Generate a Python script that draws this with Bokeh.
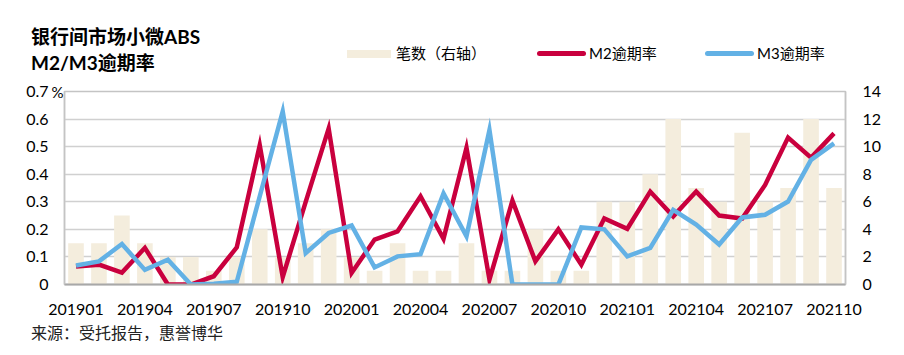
from bokeh.plotting import figure
from bokeh.layouts import column
from bokeh.models import (Range1d, LinearAxis, FixedTicker, NumeralTickFormatter,
                          ColumnDataSource, Div)
from bokeh.embed import file_html
from bokeh.resources import INLINE

months = ["201901", "201902", "201903", "201904", "201905", "201906", "201907", "201908",
          "201909", "201910", "201911", "201912", "202001", "202002", "202003", "202004",
          "202005", "202006", "202007", "202008", "202009", "202010", "202011", "202012",
          "202101", "202102", "202103", "202104", "202105", "202106", "202107", "202108",
          "202109", "202110"]
counts = [3, 3, 5, 3, 2, 2, 1, 2, 4, 2, 3, 4, 2, 1, 3, 1, 1, 3, 1, 1, 4, 1, 1, 6,
          6, 8, 12, 7, 6, 11, 6, 7, 12, 7]
m2 = [0.065, 0.072, 0.043, 0.133, 0.0, 0.0, 0.030, 0.135, 0.505, 0.027, 0.30, 0.566,
      0.042, 0.163, 0.193, 0.320, 0.166, 0.496, 0.018, 0.304, 0.084, 0.200, 0.072, 0.240,
      0.202, 0.337, 0.247, 0.337, 0.250, 0.239, 0.361, 0.533, 0.460, 0.548]
m3 = [0.069, 0.084, 0.147, 0.053, 0.090, 0.0, 0.003, 0.010, 0.32, 0.628, 0.114, 0.187,
      0.214, 0.062, 0.102, 0.110, 0.330, 0.175, 0.560, 0.0, 0.0, 0.0, 0.207, 0.200,
      0.102, 0.133, 0.271, 0.217, 0.145, 0.243, 0.253, 0.301, 0.452, 0.512]
shown_labels = ["201901", "201904", "201907", "201910", "202001", "202004", "202007",
                "202010", "202101", "202104", "202107", "202110"]
left_ticks = [0, 0.1, 0.2, 0.3, 0.4, 0.5, 0.6, 0.7]
right_ticks = [0, 2, 4, 6, 8, 10, 12, 14]
unit_label = "%"

title_lines = ["银行间市场小微ABS", "M2/M3逾期率"]
legend_names = ["笔数（右轴）", "M2逾期率", "M3逾期率"]
source_text = "来源：受托报告，惠誉博华"

RED = "#C9003E"
BLUE = "#63B1E5"
BEIGE = "#F4EDDD"
GRID = "#D0D0D0"
BORDER = "#C4C4C4"
FONT = "Lato, 'Noto Sans CJK SC'"
CSS_FONT = "Lato, 'Noto Sans CJK SC', sans-serif"
W = 896
HDR_H = 79
FTR_H = 23

idx = list(range(len(months)))
tick_idx = [months.index(m) for m in shown_labels]

# ---------------- header: title + legend (HTML) ----------------
def absdiv(left, top, inner, extra=""):
    return (f'<div style="position:absolute;left:{left}px;top:{top}px;'
            f'white-space:nowrap;{extra}">{inner}</div>')

def swatch(left, top, w, h, color, radius=0):
    return absdiv(left, top, "", f"width:{w}px;height:{h}px;background:{color};"
                                 f"border-radius:{radius}px;")

hdr_parts = [
    absdiv(31, 25, title_lines[0], "font-size:19px;font-weight:bold;line-height:23px;color:#000;"),
    absdiv(31, 50.5, title_lines[1], "font-size:19px;font-weight:bold;line-height:23px;color:#000;"),
    swatch(347, 49.5, 44, 8, BEIGE),
    absdiv(396, 44, legend_names[0], "font-size:15px;line-height:19px;color:#000;"),
    swatch(537, 51, 49, 5, RED, 2.5),
    absdiv(589, 44, legend_names[1], "font-size:15px;line-height:19px;color:#000;"),
    swatch(705, 51, 49, 5, BLUE, 2.5),
    absdiv(757, 44, legend_names[2], "font-size:15px;line-height:19px;color:#000;"),
]
hdr = Div(text=(f'<div style="position:relative;width:{W}px;height:{HDR_H}px;'
                f'font-family:{CSS_FONT};">' + "".join(hdr_parts) + "</div>"),
          width=W, height=HDR_H, margin=(0, 0, 0, 0))

# ---------------- main chart ----------------
p = figure(width=W, height=12 + 193 + 40,
           x_range=Range1d(-0.5, len(months) - 0.5),
           y_range=Range1d(0, 0.7),
           output_backend="svg", toolbar_location=None,
           min_border_left=64, min_border_right=51, min_border_top=12, min_border_bottom=40)
p.extra_y_ranges = {"right": Range1d(0, 14)}

src = ColumnDataSource(dict(x=idx, month=months, count=counts, m2=m2, m3=m3))
p.vbar(x="x", top="count", width=0.68, source=src, y_range_name="right",
       fill_color=BEIGE, line_color=None)
p.line(x="x", y="m2", source=src, line_color=RED, line_width=4.5, line_join="miter")
p.line(x="x", y="m3", source=src, line_color=BLUE, line_width=4.5, line_join="miter")

p.outline_line_color = BORDER
p.outline_line_width = 1.5
p.xgrid.visible = False
p.ygrid.ticker = FixedTicker(ticks=left_ticks)
p.ygrid.grid_line_color = GRID
p.ygrid.grid_line_width = 1.5

def plain(ax, size="16px"):
    ax.major_tick_out = 0
    ax.major_tick_in = 0
    ax.minor_tick_out = 0
    ax.minor_tick_in = 0
    ax.major_label_text_font = FONT
    ax.major_label_text_font_size = size
    ax.major_label_text_color = "#000000"

# inner left axis: only the unit sign next to the top tick
ua = p.yaxis[0]
ua.ticker = FixedTicker(ticks=[left_ticks[-1]])
ua.major_label_overrides = {left_ticks[-1]: unit_label}
plain(ua, "15px")
ua.axis_line_color = BORDER
ua.axis_line_width = 1.5
ua.major_label_standoff = 1

# outer left axis: numbers
ya = LinearAxis(ticker=FixedTicker(ticks=left_ticks),
                formatter=NumeralTickFormatter(format="0.[0]"))
plain(ya)
ya.axis_line_color = None
ya.major_label_standoff = 0
p.add_layout(ya, "left")

# right axis
ra = LinearAxis(y_range_name="right", ticker=FixedTicker(ticks=right_ticks))
plain(ra)
ra.axis_line_color = BORDER
ra.axis_line_width = 1.5
ra.major_label_standoff = 17
p.add_layout(ra, "right")

# bottom axis
xa = p.xaxis[0]
xa.ticker = FixedTicker(ticks=tick_idx)
xa.major_label_overrides = {i: months[i] for i in tick_idx}
plain(xa)
xa.axis_line_color = "#A8A8A8"
xa.axis_line_width = 2
xa.major_label_standoff = 19

# ---------------- footer: source (HTML) ----------------
ftr = Div(text=(f'<div style="position:relative;width:{W}px;height:{FTR_H}px;'
                f'font-family:{CSS_FONT};">'
                + absdiv(31, -1, source_text, "font-size:16px;line-height:20px;color:#222;")
                + "</div>"),
          width=W, height=FTR_H, margin=(0, 0, 0, 0))

layout = column(hdr, p, ftr, spacing=0)
open("out.html", "w").write(file_html(layout, INLINE))
